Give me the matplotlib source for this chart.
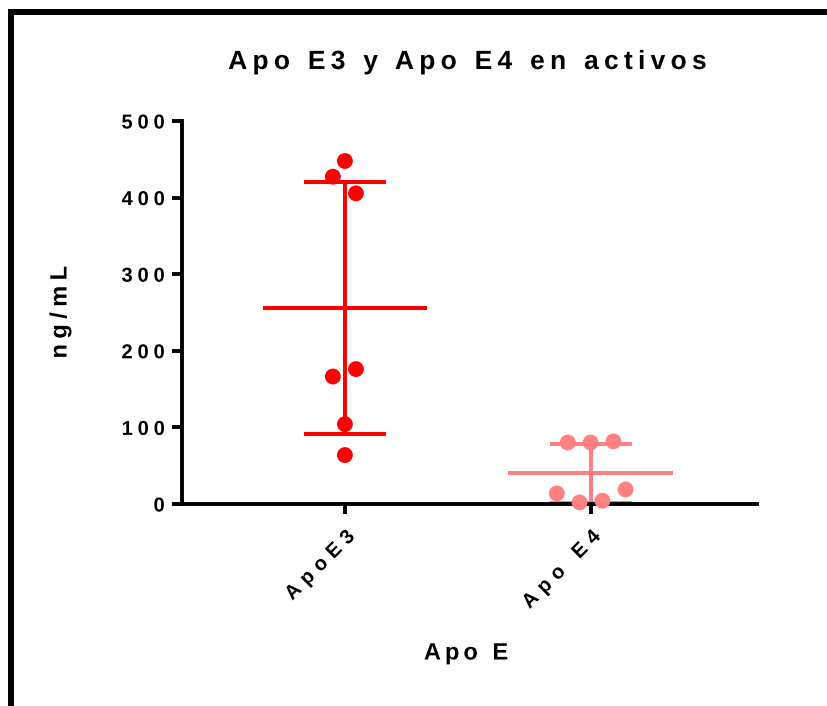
import numpy as np
import matplotlib
matplotlib.use("Agg")
import matplotlib.pyplot as plt
from matplotlib.patches import Rectangle
from matplotlib import patheffects
from matplotlib.path import Path
from matplotlib.textpath import text_to_path

plt.rcParams['font.family'] = ['Liberation Sans', 'DejaVu Sans']
plt.rcParams['font.weight'] = 'bold'

# ---- data ----
categories = ["ApoE3", "Apo E4"]
apoe3_values = [447.8, 427.3, 405.6, 176.1, 166.4, 104.3, 63.9]
apoe3_offsets = [0.0, -0.049, 0.045, 0.045, -0.049, 0.0, 0.0]
apoe4_values = [80.3, 80.3, 81.7, 13.8, 2.1, 4.3, 19.0]
apoe4_offsets = [-0.093, 0.0, 0.093, -0.138, -0.045, 0.048, 0.142]
colors = ["#FF0000", "#FF8080"]
title = "Apo E3 y Apo E4 en activos"
ylabel = "ng/mL"
xlabel = "Apo E"
yticks = [0, 100, 200, 300, 400, 500]


class LetterSpacing(patheffects.AbstractPathEffect):
    """Draw a text's glyphs with extra spacing between letters (text stays real text)."""

    def __init__(self, text_artist, spacing_em=0.3, align=0.5):
        super().__init__()
        self.t = text_artist
        self.sp = spacing_em
        self.align = align

    def draw_path(self, renderer, gc, tpath, affine, rgbFace=None):
        s = self.t.get_text()
        n = len(s)
        if n < 2 or tpath.codes is None:
            renderer.draw_path(gc, tpath, affine, rgbFace)
            return
        font = text_to_path._get_font(self.t.get_fontproperties())
        font.set_size(text_to_path.FONT_SCALE, text_to_path.DPI)
        info, _, _ = text_to_path.get_glyphs_with_font(font, s)
        xs = np.array([g[1] for g in info], dtype=float)
        sp = self.sp * text_to_path.FONT_SCALE
        base = -self.align * (n - 1) * sp
        verts = tpath.vertices.copy()
        codes = tpath.codes
        starts = list(np.nonzero(codes == Path.MOVETO)[0]) + [len(codes)]
        for a, b in zip(starts[:-1], starts[1:]):
            seg = verts[a:b]
            cx = 0.5 * (seg[:, 0].min() + seg[:, 0].max())
            idx = max(0, int(np.searchsorted(xs, cx, side='right')) - 1)
            verts[a:b, 0] += base + idx * sp
        renderer.draw_path(gc, Path(verts, codes), affine, rgbFace)


W, H = 828, 706
fig = plt.figure(figsize=(W / 100, H / 100), dpi=100)
ax = fig.add_axes([182 / W, 1 - 504 / H, 575 / W, 383 / H])

groups = [(apoe3_values, apoe3_offsets), (apoe4_values, apoe4_offsets)]
for i, ((vals, offs), c) in enumerate(zip(groups, colors)):
    vals = np.array(vals)
    xs = i + np.array(offs)
    m = vals.mean()
    sd = vals.std(ddof=1)
    lw = 2.9
    ax.plot([i - 0.335, i + 0.335], [m, m], color=c, lw=lw, solid_capstyle='butt', zorder=2)
    ax.plot([i, i], [m - sd, m + sd], color=c, lw=lw, solid_capstyle='butt', zorder=2)
    for y in (m - sd, m + sd):
        ax.plot([i - 0.167, i + 0.167], [y, y], color=c, lw=lw, solid_capstyle='butt', zorder=2)
    ax.scatter(xs, vals, s=130, color=c, edgecolors='none', zorder=3, clip_on=False)

ax.set_xlim(-0.663, 1.677)
ax.set_ylim(0, 500)
ax.set_yticks(yticks)
ax.set_xticks([0, 1])
ax.set_xticklabels(categories, rotation=45, ha='right', rotation_mode='anchor')
for s in ('top', 'right'):
    ax.spines[s].set_visible(False)
for s in ('left', 'bottom'):
    ax.spines[s].set_linewidth(2.8)
ax.tick_params(axis='both', width=2.8, length=7.5, colors='black')
ax.tick_params(axis='y', pad=5, labelsize=14.5)
ax.tick_params(axis='x', pad=9, labelsize=14.5)
for lab in ax.get_yticklabels():
    lab.set_fontweight('bold')
    lab.set_path_effects([LetterSpacing(lab, 0.24, 1.0)])
for lab in ax.get_xticklabels():
    lab.set_fontweight('bold')
    lab.set_path_effects([LetterSpacing(lab, 0.32, 1.0)])

t = fig.text(467.5 / W, 1 - 62 / H, title, ha='center', va='center', fontsize=19, fontweight='bold')
t.set_path_effects([LetterSpacing(t, 0.2, 0.5)])
yl = fig.text(60 / W, 1 - 312 / H, ylabel, ha='center', va='center', rotation=90, fontsize=17, fontweight='bold')
yl.set_path_effects([LetterSpacing(yl, 0.23, 0.5)])
xl = fig.text(466 / W, 1 - 653 / H, xlabel, ha='center', va='center', fontsize=17, fontweight='bold')
xl.set_path_effects([LetterSpacing(xl, 0.17, 0.5)])

fig.add_artist(Rectangle((11.5 / W, -0.1), 1.2, 1 - 11.5 / H + 0.1, transform=fig.transFigure,
                         fill=False, lw=4.3, ec='black', zorder=10))

fig.savefig("out.png", dpi=100, facecolor='white')
